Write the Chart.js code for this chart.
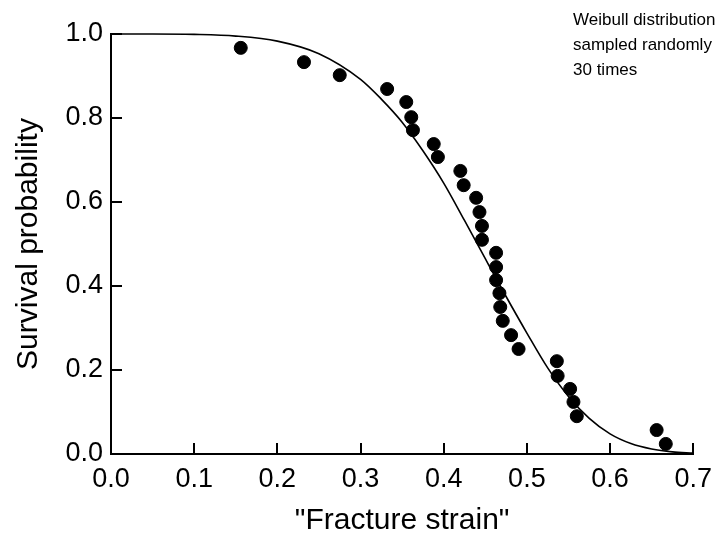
<!DOCTYPE html>
<html>
<head>
<meta charset="utf-8">
<script src="https://cdn.jsdelivr.net/npm/chart.js@4/dist/chart.umd.min.js"></script>
<style>
  html, body { margin: 0; padding: 0; background: #fff; }
  #wrap { width: 721px; height: 539px; }
</style>
</head>
<body>
<div id="wrap"><canvas id="chart" width="721" height="539"></canvas></div>
<script>
// sampled fracture strains and their survival probabilities
const strainValues = [0.156, 0.232, 0.275, 0.332, 0.355, 0.361, 0.363, 0.388, 0.393, 0.420,
  0.424, 0.439, 0.443, 0.446, 0.446, 0.463, 0.463, 0.463, 0.467, 0.468,
  0.471, 0.481, 0.490, 0.536, 0.537, 0.552, 0.556, 0.560, 0.656, 0.667];
const survivalValues = [0.967, 0.933, 0.902, 0.869, 0.838, 0.802, 0.771, 0.738, 0.707, 0.674,
  0.640, 0.610, 0.576, 0.543, 0.510, 0.479, 0.445, 0.414, 0.383, 0.350,
  0.317, 0.283, 0.250, 0.221, 0.186, 0.155, 0.124, 0.090, 0.057, 0.024];

// fitted curve
const curveX = [0, 0.05, 0.1, 0.15, 0.2, 0.25, 0.3, 0.325, 0.35, 0.375, 0.4, 0.425,
  0.45, 0.475, 0.5, 0.525, 0.55, 0.575, 0.6, 0.625, 0.65, 0.675, 0.7];
const curveY = [1.000, 1.000, 0.999, 0.995, 0.983, 0.953, 0.892, 0.845, 0.790, 0.722, 0.645, 0.556,
  0.465, 0.375, 0.288, 0.205, 0.137, 0.085, 0.048, 0.025, 0.012, 0.005, 0.002];

const xTicks = [0, 0.1, 0.2, 0.3, 0.4, 0.5, 0.6, 0.7];
const yTicks = [0, 0.2, 0.4, 0.6, 0.8, 1.0];
const noteLines = ["Weibull distribution", "sampled randomly", "30 times"];

const FONT = "'Liberation Sans', Arial, Helvetica, sans-serif";

// small ticks pointing into the plot, plus the note in the corner
const extras = {
  id: "extras",
  afterDraw(chart) {
    const c = chart.ctx;
    const xs = chart.scales.x, ys = chart.scales.y;
    const area = chart.chartArea;
    c.save();
    c.strokeStyle = "#000";
    c.lineWidth = 2;
    c.beginPath();
    xTicks.forEach(v => {
      const px = Math.round(xs.getPixelForValue(v));
      c.moveTo(px, area.bottom);
      c.lineTo(px, area.bottom - 11);
    });
    yTicks.forEach(v => {
      const py = Math.round(ys.getPixelForValue(v));
      c.moveTo(area.left, py);
      c.lineTo(area.left + 11, py);
    });
    c.stroke();

    c.fillStyle = "#000";
    c.font = "17px " + FONT;
    c.textBaseline = "middle";
    c.textAlign = "left";
    noteLines.forEach((t, i) => c.fillText(t, 573, 20 + i * 25));
    c.restore();
  }
};

const points = strainValues.map((x, i) => ({ x: x, y: survivalValues[i] }));
const curve = curveX.map((x, i) => ({ x: x, y: curveY[i] }));

new Chart(document.getElementById("chart"), {
  type: "scatter",
  data: {
    datasets: [
      {
        label: "samples",
        data: points,
        backgroundColor: "#000",
        borderColor: "#000",
        pointRadius: 6.5,
        pointHoverRadius: 6.5,
        clip: false
      },
      {
        label: "Weibull",
        data: curve,
        showLine: true,
        borderColor: "#000",
        borderWidth: 1.6,
        pointRadius: 0,
        cubicInterpolationMode: "monotone",
        clip: false
      }
    ]
  },
  options: {
    responsive: false,
    animation: false,
    devicePixelRatio: 1,
    layout: { padding: { top: 34, right: 22, left: 0, bottom: 0 } },
    plugins: {
      legend: { display: false },
      tooltip: { enabled: false }
    },
    scales: {
      x: {
        type: "linear",
        min: 0,
        max: 0.7,
        afterFit: s => { s.height = 85; },
        afterBuildTicks: s => { s.ticks = xTicks.map(v => ({ value: v })); },
        border: { display: true, color: "#000", width: 2 },
        grid: { drawOnChartArea: false, drawTicks: false },
        ticks: {
          color: "#000",
          padding: 9,
          maxRotation: 0,
          font: { family: FONT, size: 27 },
          callback: v => v.toFixed(1)
        },
        title: {
          display: true,
          text: "\"Fracture strain\"",
          color: "#000",
          font: { family: FONT, size: 30 },
          padding: { top: 0, bottom: 0 }
        }
      },
      y: {
        type: "linear",
        min: 0,
        max: 1,
        afterFit: s => { s.width = 111; },
        afterBuildTicks: s => { s.ticks = yTicks.map(v => ({ value: v })); },
        border: { display: true, color: "#000", width: 2 },
        grid: { drawOnChartArea: false, drawTicks: false },
        ticks: {
          color: "#000",
          padding: 8,
          font: { family: FONT, size: 27 },
          callback: v => v.toFixed(1)
        },
        title: {
          display: true,
          text: "Survival probability",
          color: "#000",
          font: { family: FONT, size: 30 },
          padding: { top: 11, bottom: 0 }
        }
      }
    }
  },
  plugins: [extras]
});
</script>
</body>
</html>
